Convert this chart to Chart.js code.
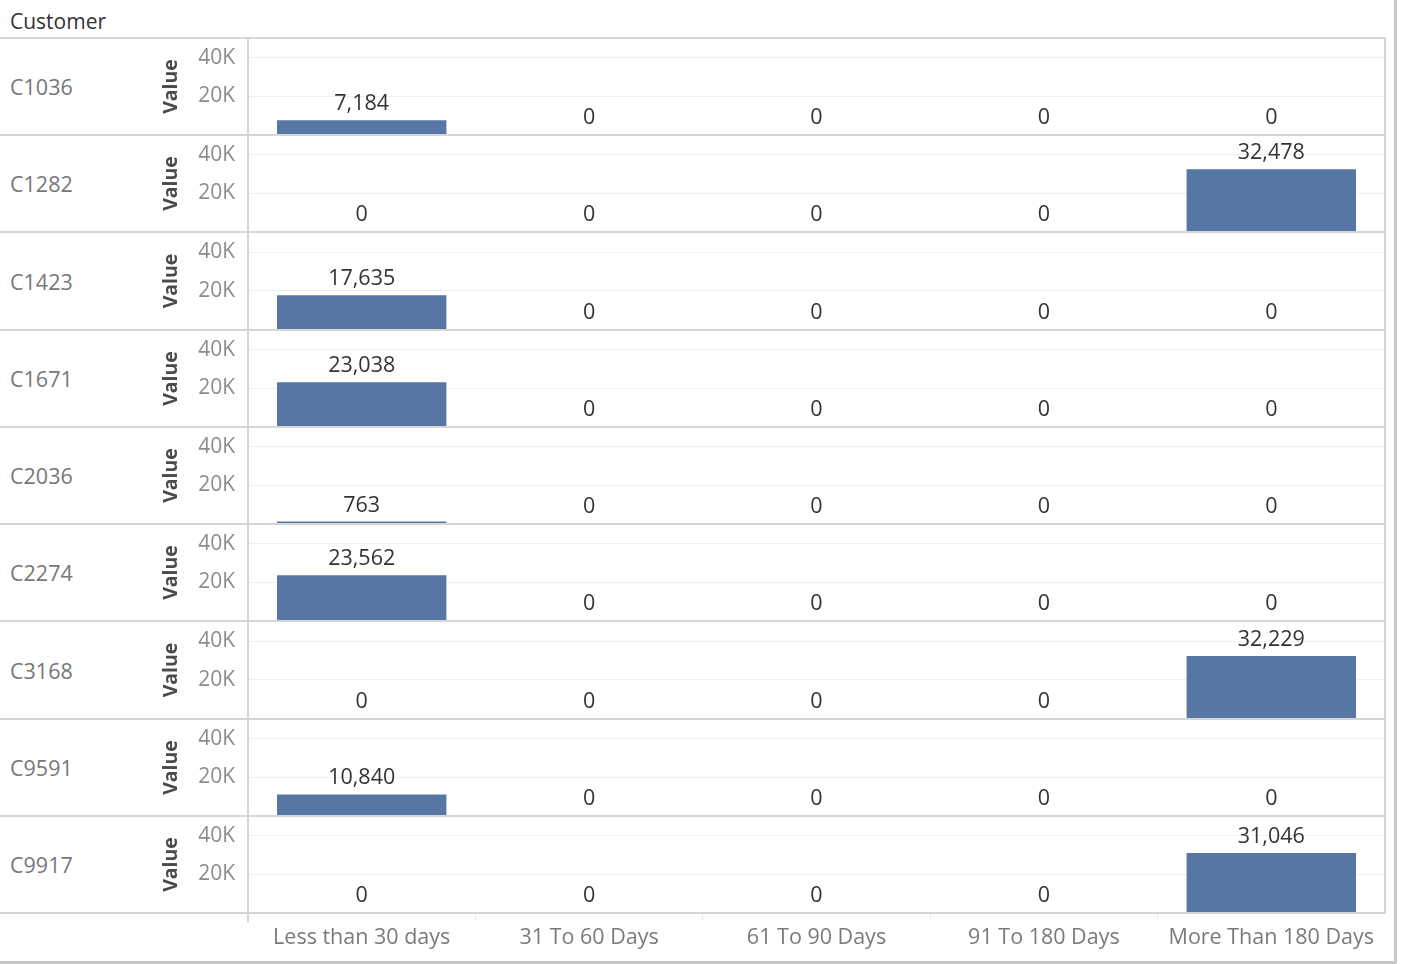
<!DOCTYPE html>
<html>
<head>
<meta charset="utf-8">
<script src="https://cdn.jsdelivr.net/npm/chart.js@4"></script>
<style>
  body { margin: 0; background: #fff; font-family: "Open Sans", sans-serif; }
  #wrap { position: relative; width: 1404px; height: 964px; overflow: hidden; background: #fff; }
  #hdr { position: absolute; left: 10px; top: 7px; font-size: 21px; line-height: 28px; color: #333; }
  .line { position: absolute; background: #d6d6d6; z-index: 2; }
  .cust { position: absolute; left: 10px; width: 140px; display: flex; align-items: center; font-size: 21.5px; color: #777; }
  canvas { position: absolute; z-index: 1; }
</style>
</head>
<body>
<div id="wrap"><div id="hdr">Customer</div></div>
<script>
const categories = ["Less than 30 days", "31 To 60 Days", "61 To 90 Days", "91 To 180 Days", "More Than 180 Days"];
const customers = ["C1036", "C1282", "C1423", "C1671", "C2036", "C2274", "C3168", "C9591", "C9917"];

// one value per customer, same order as customers
const lessThan30 = [7184, 0, 17635, 23038, 763, 23562, 0, 10840, 0];
const days31to60 = [0, 0, 0, 0, 0, 0, 0, 0, 0];
const days61to90 = [0, 0, 0, 0, 0, 0, 0, 0, 0];
const days91to180 = [0, 0, 0, 0, 0, 0, 0, 0, 0];
const moreThan180 = [0, 32478, 0, 0, 0, 0, 32229, 0, 31046];

const yTicks = [20000, 40000];
const yMax = 50000;

const wrap = document.getElementById("wrap");

function line(x, y, w, h, color) {
  const d = document.createElement("div");
  d.className = "line";
  d.style.left = x + "px";
  d.style.top = y + "px";
  d.style.width = w + "px";
  d.style.height = h + "px";
  if (color) d.style.background = color;
  wrap.appendChild(d);
}

// row boundaries
const top0 = 38, bottom0 = 913;
const rowH = (bottom0 - top0) / customers.length;
const bounds = [];
for (let i = 0; i <= customers.length; i++) bounds.push(Math.round(top0 + i * rowH));

// value labels above bars
const valueLabels = {
  id: "valueLabels",
  afterDatasetsDraw(chart) {
    const c = chart.ctx;
    c.save();
    c.font = "21.5px 'Open Sans', sans-serif";
    c.fillStyle = "#333";
    c.textAlign = "center";
    c.textBaseline = "alphabetic";
    chart.getDatasetMeta(0).data.forEach((bar, j) => {
      const v = chart.data.datasets[0].data[j];
      c.fillText(v.toLocaleString("en-US"), bar.x, bar.y - 10);
    });
    c.restore();
  }
};

customers.forEach((name, i) => {
  const last = i === customers.length - 1;
  const top = bounds[i] + 1;
  const h = bounds[i + 1] - bounds[i] - 2;
  const axisH = last ? 50 : 0;

  const lab = document.createElement("div");
  lab.className = "cust";
  lab.style.top = bounds[i] + "px";
  lab.style.height = (bounds[i + 1] - bounds[i]) + "px";
  lab.textContent = name;
  wrap.appendChild(lab);

  const cv = document.createElement("canvas");
  cv.width = 1235;
  cv.height = h + axisH;
  cv.style.left = "150px";
  cv.style.top = top + "px";
  wrap.appendChild(cv);

  new Chart(cv.getContext("2d"), {
    type: "bar",
    data: {
      labels: categories,
      datasets: [{
        data: [lessThan30[i], days31to60[i], days61to90[i], days91to180[i], moreThan180[i]],
        backgroundColor: "#5677a4",
        barPercentage: 0.745,
        categoryPercentage: 1
      }]
    },
    options: {
      responsive: false,
      animation: false,
      layout: { padding: 0 },
      plugins: { legend: { display: false }, tooltip: { enabled: false } },
      scales: {
        x: {
          display: last,
          offset: true,
          grid: { display: true, drawOnChartArea: false, offset: true, tickLength: 9, color: "#ececec" },
          border: { display: false },
          ticks: { font: { family: "'Open Sans', sans-serif", size: 21.5 }, color: "#7a7a7a", padding: 4, maxRotation: 0 },
          afterFit(s) { s.height = axisH; s.paddingLeft = 0; s.paddingRight = 0; }
        },
        y: {
          min: 0,
          max: yMax,
          grid: { color: "#efefef", drawTicks: false },
          border: { display: false },
          ticks: {
            font: { family: "'Open Sans', sans-serif", size: 21 },
            color: "#8c8c8c",
            padding: 13,
            callback: v => v / 1000 + "K"
          },
          title: {
            display: true,
            text: "Value",
            font: { family: "'Open Sans', sans-serif", size: 19.5, weight: "bold" },
            color: "#4a4a4a",
            padding: { top: 10, bottom: 0 }
          },
          afterBuildTicks(s) { s.ticks = yTicks.map(v => ({ value: v })); },
          afterFit(s) { s.width = 98; s.paddingTop = 0; s.paddingBottom = 0; }
        }
      }
    },
    plugins: [valueLabels]
  });
});

// grid frame
line(0, top0 - 1, 1386, 2);
for (let i = 1; i <= customers.length; i++) line(0, bounds[i] - 1, 1386, 2);
line(247, top0, 2, bottom0 - top0 + 9);
line(1384, top0, 2, bottom0 - top0);
// outer frame
line(1394, 0, 3, 964, "#c8c8c8");
line(0, 961, 1397, 3, "#c8c8c8");
</script>
</body>
</html>
